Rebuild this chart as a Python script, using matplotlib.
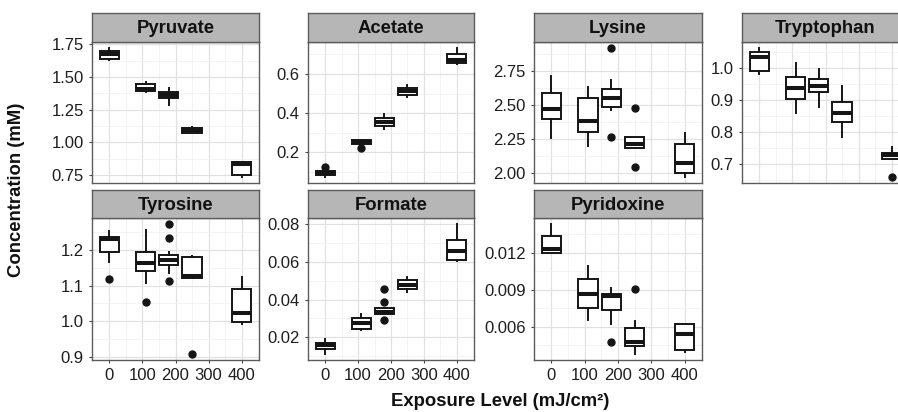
import matplotlib
matplotlib.use("Agg")
import matplotlib.pyplot as plt
from matplotlib.ticker import FixedLocator

plt.rcParams['font.family'] = ['Liberation Sans', 'DejaVu Sans']

# ---------------- data ----------------
exposure = [0, 110, 180, 250, 400]
x_ticks = [0, 100, 200, 300, 400]
x_tick_labels = ["0", "100", "200", "300", "400"]

x_title = "Exposure Level (mJ/cm²)"
y_title = "Concentration (mM)"

pyruvate = dict(
    whislo=[1.630, 1.386, 1.287, 1.068, 0.737],
    q1=[1.640, 1.390, 1.338, 1.071, 0.752],
    med=[1.680, 1.406, 1.362, 1.095, 0.835],
    q3=[1.697, 1.450, 1.389, 1.112, 0.852],
    whishi=[1.720, 1.463, 1.414, 1.118, 0.852],
    fliers=[[], [], [], [], []],
)
acetate = dict(
    whislo=[0.077, 0.240, 0.320, 0.485, 0.652],
    q1=[0.085, 0.242, 0.337, 0.495, 0.655],
    med=[0.095, 0.252, 0.357, 0.512, 0.672],
    q3=[0.107, 0.262, 0.377, 0.527, 0.700],
    whishi=[0.110, 0.262, 0.394, 0.544, 0.730],
    fliers=[[0.127], [0.224], [], [], []],
)
lysine = dict(
    whislo=[2.258, 2.195, 2.458, 2.178, 1.970],
    q1=[2.397, 2.300, 2.482, 2.178, 2.000],
    med=[2.470, 2.380, 2.548, 2.210, 2.068],
    q3=[2.584, 2.550, 2.616, 2.263, 2.214],
    whishi=[2.713, 2.633, 2.684, 2.263, 2.295],
    fliers=[[], [], [2.916, 2.263], [2.477, 2.044], []],
)
tryptophan = dict(
    whislo=[0.980, 0.858, 0.877, 0.786, 0.716],
    q1=[0.990, 0.903, 0.926, 0.830, 0.716],
    med=[1.032, 0.936, 0.944, 0.858, 0.729],
    q3=[1.050, 0.972, 0.965, 0.895, 0.736],
    whishi=[1.060, 1.016, 0.995, 0.944, 0.755],
    fliers=[[], [], [], [], [0.662]],
)
tyrosine = dict(
    whislo=[1.167, 1.107, 1.135, 1.121, 0.993],
    q1=[1.193, 1.142, 1.158, 1.121, 0.999],
    med=[1.230, 1.163, 1.172, 1.128, 1.022],
    q3=[1.235, 1.195, 1.186, 1.181, 1.090],
    whishi=[1.254, 1.256, 1.195, 1.184, 1.124],
    fliers=[[1.118], [1.053], [1.271, 1.232, 1.112], [0.910], []],
)
formate = dict(
    whislo=[0.0113, 0.0237, 0.0323, 0.0442, 0.0605],
    q1=[0.0135, 0.0246, 0.0323, 0.0456, 0.0610],
    med=[0.0156, 0.0273, 0.0335, 0.0480, 0.0660],
    q3=[0.0170, 0.0303, 0.0353, 0.0504, 0.0717],
    whishi=[0.0188, 0.0321, 0.0353, 0.0521, 0.0800],
    fliers=[[], [], [0.0454, 0.0385, 0.0291], [], []],
)
pyridoxine = dict(
    whislo=[0.01200, 0.00654, 0.00620, 0.00384, 0.00397],
    q1=[0.01200, 0.00749, 0.00740, 0.00446, 0.00411],
    med=[0.01228, 0.00870, 0.00849, 0.00478, 0.00546],
    q3=[0.01338, 0.00984, 0.00870, 0.00592, 0.00627],
    whishi=[0.01430, 0.01095, 0.00919, 0.00646, 0.00627],
    fliers=[[], [], [0.00478], [0.00905], []],
)

panel_names = ["Pyruvate", "Acetate", "Lysine", "Tryptophan",
               "Tyrosine", "Formate", "Pyridoxine"]
panel_data = [pyruvate, acetate, lysine, tryptophan,
              tyrosine, formate, pyridoxine]
y_tick_labels = [
    ["0.75", "1.00", "1.25", "1.50", "1.75"],
    ["0.2", "0.4", "0.6"],
    ["2.00", "2.25", "2.50", "2.75"],
    ["0.7", "0.8", "0.9", "1.0"],
    ["0.9", "1.0", "1.1", "1.2"],
    ["0.02", "0.04", "0.06", "0.08"],
    ["0.006", "0.009", "0.012"],
]

# ---------------- layout ----------------
W, H = 898, 412
fig = plt.figure(figsize=(W / 100, H / 100), dpi=100)
col_left = [92, 308, 534, 742]
col_w = [167, 166, 168, 167]
rows = [(13, 42, 183), (190, 218, 360)]  # strip top, panel top, panel bottom

STRIP = '#b6b6b6'
BORDER = '#5c5c5c'
GRID_MAJ = '#e1e1e1'
GRID_MIN = '#efefef'
TXT = '#1e1e1e'
xlim = (-52, 452)


def minor_breaks(major, lo, hi):
    step = major[1] - major[0]
    b = list(major)
    if lo < b[0]:
        b = [b[0] - step] + b
    if hi > b[-1]:
        b = b + [b[-1] + step]
    mids = [(a + c) / 2 for a, c in zip(b[:-1], b[1:])]
    return [m for m in mids if lo <= m <= hi]


for i, (name, d, labs) in enumerate(zip(panel_names, panel_data, y_tick_labels)):
    r, c = divmod(i, 4)
    st, pt, pb = rows[r]
    left = col_left[c]
    w = col_w[c]
    ax = fig.add_axes([left / W, (H - pb) / H, w / W, (pb - pt) / H])
    sax = fig.add_axes([left / W, (H - pt) / H, w / W, (pt - st) / H])

    stats = []
    for k in range(len(exposure)):
        stats.append(dict(med=d['med'][k], q1=d['q1'][k], q3=d['q3'][k],
                          whislo=d['whislo'][k], whishi=d['whishi'][k],
                          fliers=d['fliers'][k]))
    ax.bxp(stats, positions=exposure, widths=58, showcaps=False,
           patch_artist=True, manage_ticks=False,
           boxprops=dict(facecolor='white', edgecolor='#151515', linewidth=1.4),
           medianprops=dict(color='#151515', linewidth=2.9, solid_capstyle='butt'),
           whiskerprops=dict(color='#151515', linewidth=1.4),
           flierprops=dict(marker='o', markerfacecolor='#151515',
                           markeredgecolor='#151515', markersize=5.0,
                           linestyle='none'))

    vals = d['whislo'] + d['whishi'] + [v for f in d['fliers'] for v in f]
    lo, hi = min(vals), max(vals)
    pad = (hi - lo) * 0.05
    ylo, yhi = lo - pad, hi + pad
    ax.set_ylim(ylo, yhi)
    ax.set_xlim(*xlim)

    yt = [float(s) for s in labs]
    ax.set_yticks(yt)
    ax.set_yticklabels(labs)
    ax.yaxis.set_minor_locator(FixedLocator(minor_breaks(yt, ylo, yhi)))
    ax.xaxis.set_major_locator(FixedLocator(x_ticks))
    ax.xaxis.set_minor_locator(FixedLocator([50, 150, 250, 350]))

    ax.set_axisbelow(True)
    ax.grid(which='major', color=GRID_MAJ, linewidth=0.9)
    ax.grid(which='minor', color=GRID_MIN, linewidth=0.5)
    ax.tick_params(which='minor', length=0)
    ax.tick_params(which='major', length=2.5, width=0.8, color='#444444',
                   labelsize=12, labelcolor=TXT, pad=3.5)
    if r == 1:
        ax.set_xticklabels(x_tick_labels)
    else:
        ax.set_xticklabels([])
        ax.tick_params(axis='x', which='major', length=0)
    for sp in ax.spines.values():
        sp.set_color(BORDER)
        sp.set_linewidth(1.0)

    sax.set_facecolor(STRIP)
    sax.set_xticks([])
    sax.set_yticks([])
    for sp in sax.spines.values():
        sp.set_color(BORDER)
        sp.set_linewidth(1.0)
    sax.text(0.5, 0.46, name, transform=sax.transAxes, ha='center', va='center',
             fontsize=13.3, fontweight='bold', color='#111111')

fig.text(500 / W, 1 - 401 / H, x_title, ha='center', va='center',
         fontsize=13.3, fontweight='bold', color='#111111')
fig.text(17 / W, 1 - 190 / H, y_title, ha='center', va='center', rotation=90,
         fontsize=13.3, fontweight='bold', color='#111111')

fig.savefig('out.png', dpi=100, facecolor='white')
